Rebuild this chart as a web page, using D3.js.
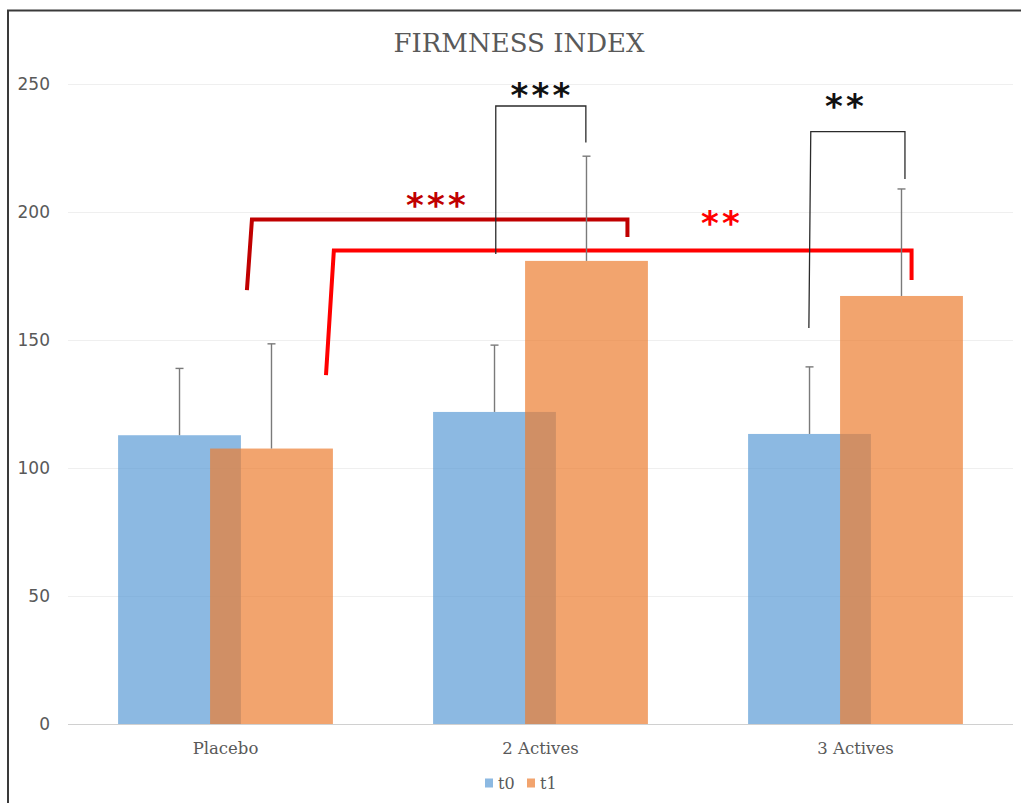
<!DOCTYPE html>
<html>
<head>
<meta charset="utf-8">
<script src="https://cdn.jsdelivr.net/npm/d3@7"></script>
<style>
  html, body { margin: 0; padding: 0; background: #fff; }
  svg { display: block; }
</style>
</head>
<body>
<svg id="chart" width="1021" height="803"></svg>
<script>
// Firmness index, mean values at t0 and t1 per treatment group
const categories = ["Placebo", "2 Actives", "3 Actives"];
const seriesNames = ["t0", "t1"];
const t0Values = [112.8, 121.9, 113.3];
const t1Values = [107.6, 180.9, 167.2];
// upper error bars (standard deviation)
const t0Errors = [26.1, 26.1, 26.2];
const t1Errors = [40.9, 40.9, 41.8];
const yTicks = [0, 50, 100, 150, 200, 250];

// significance brackets: x in category units (0 = first group centre), y in index units
const innerBrackets = [
  { stars: "***", starX: 1.0, starY: 248.2, path: [[0.858, 183.6], [0.858, 241.4], [1.144, 241.4], [1.144, 227.1]] },
  { stars: "**",  starX: 1.965, starY: 243.6, path: [[1.852, 154.7], [1.858, 231.4], [2.157, 231.4], [2.157, 212.9]] }
];
const crossBrackets = [
  { stars: "***", starX: 0.668, starY: 205.1, path: [[0.068, 169.5], [0.084, 197.1], [1.276, 197.1], [1.276, 190.2]] },
  { stars: "**",  starX: 1.571, starY: 197.9, path: [[0.319, 136.3], [0.344, 185.0], [2.178, 185.0], [2.178, 173.4]] }
];

const svg = d3.select("#chart");
const plot = { left: 68, right: 1013, top: 84, bottom: 724 };

const x = d3.scaleBand().domain(categories).range([plot.left, plot.right]);
const xi = d3.scaleLinear().domain([-0.5, categories.length - 0.5]).range([plot.left, plot.right]);
const y = d3.scaleLinear().domain([0, 250]).range([plot.bottom, plot.top]);

const band = x.bandwidth();
const barW = band * 0.39;
const step = band * 0.292;       // centre-to-centre distance of the two overlapping columns
const colors = { t0: "#5B9BD5", t1: "#ED7D31" };
const barOpacity = 0.7;

const rows = categories.map((c, i) => ({
  cat: c,
  t0: t0Values[i], t1: t1Values[i],
  e0: t0Errors[i], e1: t1Errors[i]
}));
const seriesCenter = (cat, s) => x(cat) + band / 2 + (s === 0 ? -step / 2 : step / 2);

// frame
svg.append("rect")
  .attr("x", 8).attr("y", 10.5).attr("width", 1100).attr("height", 900)
  .attr("fill", "none").attr("stroke", "#3a3a3a").attr("stroke-width", 2);

// title
svg.append("text")
  .attr("x", 519).attr("y", 52)
  .attr("text-anchor", "middle")
  .attr("font-family", "DejaVu Serif")
  .attr("font-size", 26)
  .attr("fill", "#595959")
  .text("FIRMNESS INDEX");

// gridlines + y tick labels
const yAxis = d3.axisLeft(y).tickValues(yTicks).tickSize(-(plot.right - plot.left)).tickPadding(18);
const gy = svg.append("g").attr("transform", `translate(${plot.left},0)`).call(yAxis);
gy.select(".domain").remove();
gy.selectAll(".tick line").attr("stroke", d => d === 0 ? "#d0d0d0" : "#efefef").attr("stroke-width", 1);
gy.selectAll(".tick text")
  .attr("font-family", "DejaVu Sans")
  .attr("font-size", 17)
  .attr("fill", "#595959");

// category axis labels
const xAxis = d3.axisBottom(x).tickSize(0).tickPadding(18);
const gx = svg.append("g").attr("transform", `translate(0,${plot.bottom})`).call(xAxis);
gx.select(".domain").remove();
gx.selectAll(".tick text")
  .attr("font-family", "DejaVu Serif")
  .attr("font-size", 16.5)
  .attr("fill", "#595959");

// columns
seriesNames.forEach((s, si) => {
  svg.append("g").selectAll("rect").data(rows).join("rect")
    .attr("x", d => seriesCenter(d.cat, si) - barW / 2)
    .attr("y", d => y(d[s]))
    .attr("width", barW)
    .attr("height", d => y(0) - y(d[s]))
    .attr("fill", colors[s])
    .attr("fill-opacity", barOpacity);
});

const line = d3.line().x(p => xi(p[0])).y(p => y(p[1]));

// group-to-group comparison brackets
const crossColors = ["#c00000", "#ff0000"];
crossBrackets.forEach((b, i) => {
  svg.append("path").attr("d", line(b.path))
    .attr("fill", "none").attr("stroke", crossColors[i]).attr("stroke-width", 4)
    .attr("stroke-linejoin", "miter");
});

// error bars (plus direction only)
const capW = 8;
seriesNames.forEach((s, si) => {
  const key = si === 0 ? "e0" : "e1";
  const g = svg.append("g").attr("stroke", "#7a7a7a").attr("stroke-width", 1.4);
  rows.forEach(d => {
    const cx = seriesCenter(d.cat, si);
    g.append("line").attr("x1", cx).attr("x2", cx).attr("y1", y(d[s])).attr("y2", y(d[s] + d[key]));
    g.append("line").attr("x1", cx - capW / 2).attr("x2", cx + capW / 2)
      .attr("y1", y(d[s] + d[key])).attr("y2", y(d[s] + d[key]));
  });
});

// within-group brackets
innerBrackets.forEach(b => {
  svg.append("path").attr("d", line(b.path))
    .attr("fill", "none").attr("stroke", "#2b2b2b").attr("stroke-width", 1.3);
});

// significance stars, spaced glyph by glyph
const starGap = 21;
const starText = (b, color) => {
  const n = b.stars.length;
  const cx = xi(b.starX);
  svg.append("g").selectAll("text").data(Array.from(b.stars)).join("text")
    .attr("x", (d, k) => cx + (k - (n - 1) / 2) * starGap)
    .attr("y", y(b.starY) + 18)
    .attr("text-anchor", "middle")
    .attr("font-family", "DejaVu Sans")
    .attr("font-weight", "bold")
    .attr("font-size", 34)
    .attr("fill", color)
    .text(d => d);
};
innerBrackets.forEach(b => starText(b, "#111"));
crossBrackets.forEach((b, i) => starText(b, crossColors[i]));

// legend
const legend = svg.append("g").attr("transform", "translate(485,783)");
const legendX = [0, 42];
seriesNames.forEach((s, i) => {
  legend.append("rect").attr("x", legendX[i]).attr("y", -4.5).attr("width", 8).attr("height", 9)
    .attr("fill", colors[s]).attr("fill-opacity", barOpacity);
  legend.append("text").attr("x", legendX[i] + 13).attr("y", 6)
    .attr("font-family", "DejaVu Serif").attr("font-size", 16).attr("fill", "#595959")
    .text(s);
});
</script>
</body>
</html>
